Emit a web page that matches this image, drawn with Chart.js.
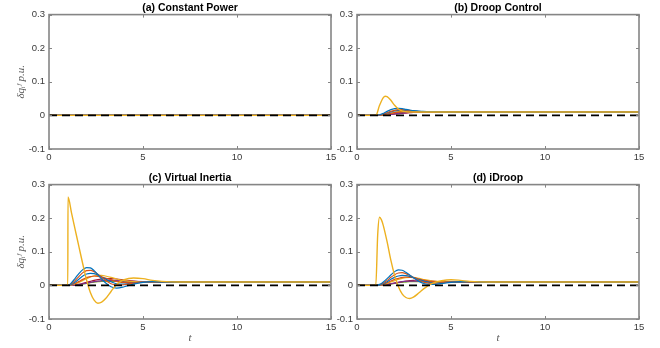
<!DOCTYPE html>
<html>
<head>
<meta charset="utf-8">
<script src="https://cdn.jsdelivr.net/npm/chart.js@4.4.1/dist/chart.umd.min.js"></script>
<style>
  html, body { margin: 0; padding: 0; background: #fff; }
  #wrap { position: relative; width: 660px; height: 348px; overflow: hidden; }
  canvas { position: absolute; }
</style>
</head>
<body>
<div id="wrap">
  <canvas id="pa" width="340" height="170" style="left:0;top:0"></canvas>
  <canvas id="pb" width="330" height="170" style="left:330px;top:0"></canvas>
  <canvas id="pc" width="340" height="178" style="left:0;top:170px"></canvas>
  <canvas id="pd" width="330" height="178" style="left:330px;top:170px"></canvas>
</div>
<script>
// axes
const xTicks = [0, 5, 10, 15];
const yTicks = [-0.1, 0, 0.1, 0.2, 0.3];
const yTickText = ["-0.1", "0", "0.1", "0.2", "0.3"];

const titles = ["(a) Constant Power", "(b) Droop Control", "(c) Virtual Inertia", "(d) iDroop"];

// matlab colours for the small curves, the big one is yellow
const smallColors = ["#0072BD", "#D95319", "#0072BD", "#D95319", "#EDB120", "#7E2F8E", "#A2142F", "#77AC30"];
const bigColor = "#EDB120";

// (a) constant power: everything stays at zero
const tA = [0, 15];
const aBig = [0, 0];
const aSmall = [
  [0, 0], [0, 0], [0, 0], [0, 0], [0, 0], [0, 0], [0, 0], [0, 0]
];

// (b) droop control
const tB = [0, 1.0, 1.2, 1.4, 1.5, 1.6, 1.8, 2.0, 2.2, 2.4, 2.6, 2.8, 3.0, 3.5, 4.0, 5.0, 6.0, 8.0, 10, 15];
const bBig = [0, 0, 0.030, 0.053, 0.057, 0.056, 0.045, 0.030, 0.019, 0.013, 0.011, 0.010, 0.010, 0.010, 0.010, 0.010, 0.010, 0.010, 0.010, 0.010];
const bSmall = [
  [0, 0, 0.002, 0.006, 0.009, 0.012, 0.017, 0.020, 0.021, 0.020, 0.018, 0.016, 0.014, 0.012, 0.011, 0.010, 0.010, 0.010, 0.010, 0.010],
  [0, 0, 0.001, 0.004, 0.006, 0.008, 0.012, 0.015, 0.017, 0.017, 0.016, 0.015, 0.013, 0.011, 0.010, 0.010, 0.010, 0.010, 0.010, 0.010],
  [0, 0, 0.001, 0.003, 0.005, 0.007, 0.010, 0.013, 0.015, 0.015, 0.015, 0.014, 0.013, 0.011, 0.010, 0.010, 0.010, 0.010, 0.010, 0.010],
  [0, 0, 0, 0.002, 0.003, 0.004, 0.006, 0.008, 0.010, 0.011, 0.012, 0.012, 0.011, 0.011, 0.010, 0.010, 0.010, 0.010, 0.010, 0.010],
  [0, 0, 0, 0.001, 0.002, 0.003, 0.006, 0.009, 0.011, 0.012, 0.013, 0.013, 0.012, 0.011, 0.010, 0.010, 0.010, 0.010, 0.010, 0.010],
  [0, 0, 0, 0.001, 0.001, 0.002, 0.003, 0.005, 0.006, 0.007, 0.008, 0.009, 0.009, 0.010, 0.010, 0.010, 0.010, 0.010, 0.010, 0.010],
  [0, 0, 0, 0.001, 0.001, 0.002, 0.003, 0.004, 0.005, 0.006, 0.007, 0.008, 0.009, 0.010, 0.010, 0.010, 0.010, 0.010, 0.010, 0.010],
  [0, 0, 0, 0.001, 0.002, 0.003, 0.005, 0.007, 0.008, 0.009, 0.010, 0.010, 0.010, 0.010, 0.010, 0.010, 0.010, 0.010, 0.010, 0.010]
];

// (c) virtual inertia
const tC = [0, 1.0, 1.01, 1.2, 1.4, 1.6, 1.8, 2.0, 2.2, 2.4, 2.6, 2.8, 3.0, 3.3, 3.6, 4.0, 4.5, 5.0, 5.5, 6.0, 7.0, 8.0, 10, 15];
const cBig = [0, 0, 0.263, 0.215, 0.164, 0.113, 0.063, 0.016, -0.021, -0.044, -0.053, -0.050, -0.040, -0.018, 0.003, 0.017, 0.022, 0.020, 0.015, 0.012, 0.010, 0.010, 0.010, 0.010];
const cSmall = [
  [0, 0, 0, 0.008, 0.022, 0.036, 0.047, 0.053, 0.052, 0.044, 0.032, 0.019, 0.008, -0.004, -0.008, -0.004, 0.004, 0.009, 0.011, 0.011, 0.010, 0.010, 0.010, 0.010],
  [0, 0, 0, 0.005, 0.015, 0.027, 0.038, 0.044, 0.045, 0.041, 0.033, 0.024, 0.015, 0.005, 0.001, 0.002, 0.007, 0.010, 0.011, 0.011, 0.010, 0.010, 0.010, 0.010],
  [0, 0, 0, 0.003, 0.010, 0.019, 0.028, 0.034, 0.036, 0.035, 0.031, 0.025, 0.019, 0.011, 0.005, 0.004, 0.007, 0.010, 0.011, 0.010, 0.010, 0.010, 0.010, 0.010],
  [0, 0, 0, 0.002, 0.006, 0.012, 0.018, 0.023, 0.026, 0.028, 0.027, 0.025, 0.022, 0.017, 0.012, 0.008, 0.008, 0.010, 0.010, 0.010, 0.010, 0.010, 0.010, 0.010],
  [0, 0, 0, 0.001, 0.004, 0.009, 0.015, 0.020, 0.025, 0.028, 0.030, 0.030, 0.028, 0.024, 0.019, 0.014, 0.011, 0.010, 0.010, 0.010, 0.010, 0.010, 0.010, 0.010],
  [0, 0, 0, 0, 0.001, 0.003, 0.005, 0.007, 0.009, 0.011, 0.013, 0.014, 0.015, 0.015, 0.014, 0.013, 0.012, 0.011, 0.010, 0.010, 0.010, 0.010, 0.010, 0.010],
  [0, 0, 0, 0, 0.001, 0.003, 0.006, 0.009, 0.012, 0.015, 0.017, 0.019, 0.020, 0.020, 0.019, 0.016, 0.013, 0.011, 0.010, 0.010, 0.010, 0.010, 0.010, 0.010],
  [0, 0, 0, 0, 0.001, 0.002, 0.004, 0.006, 0.008, 0.010, 0.011, 0.012, 0.012, 0.012, 0.012, 0.011, 0.011, 0.010, 0.010, 0.010, 0.010, 0.010, 0.010, 0.010]
];

// (d) iDroop
const tD = [0, 1.0, 1.1, 1.2, 1.3, 1.4, 1.6, 1.8, 2.0, 2.2, 2.4, 2.6, 2.8, 3.0, 3.3, 3.6, 4.0, 4.5, 5.0, 5.5, 6.0, 7.0, 8.0, 10, 15];
const dBig = [0, 0, 0.150, 0.203, 0.195, 0.178, 0.130, 0.075, 0.030, -0.003, -0.025, -0.036, -0.039, -0.035, -0.022, -0.008, 0.006, 0.014, 0.017, 0.015, 0.012, 0.010, 0.010, 0.010, 0.010];
const dSmall = [
  [0, 0, 0.001, 0.003, 0.006, 0.010, 0.020, 0.031, 0.041, 0.046, 0.045, 0.039, 0.031, 0.023, 0.012, 0.005, 0.003, 0.006, 0.009, 0.011, 0.011, 0.010, 0.010, 0.010, 0.010],
  [0, 0, 0.001, 0.002, 0.004, 0.007, 0.015, 0.024, 0.032, 0.037, 0.038, 0.035, 0.030, 0.024, 0.015, 0.009, 0.006, 0.008, 0.010, 0.011, 0.010, 0.010, 0.010, 0.010, 0.010],
  [0, 0, 0, 0.001, 0.003, 0.005, 0.011, 0.018, 0.024, 0.028, 0.030, 0.029, 0.027, 0.023, 0.017, 0.012, 0.008, 0.008, 0.010, 0.010, 0.010, 0.010, 0.010, 0.010, 0.010],
  [0, 0, 0, 0.001, 0.002, 0.003, 0.008, 0.013, 0.018, 0.021, 0.024, 0.025, 0.024, 0.023, 0.019, 0.015, 0.011, 0.010, 0.010, 0.010, 0.010, 0.010, 0.010, 0.010, 0.010],
  [0, 0, 0, 0, 0.001, 0.002, 0.006, 0.010, 0.014, 0.018, 0.021, 0.023, 0.024, 0.024, 0.021, 0.017, 0.013, 0.011, 0.010, 0.010, 0.010, 0.010, 0.010, 0.010, 0.010],
  [0, 0, 0, 0, 0, 0.001, 0.003, 0.005, 0.007, 0.009, 0.011, 0.012, 0.013, 0.013, 0.013, 0.012, 0.011, 0.011, 0.010, 0.010, 0.010, 0.010, 0.010, 0.010, 0.010],
  [0, 0, 0, 0, 0, 0.001, 0.003, 0.005, 0.007, 0.009, 0.011, 0.013, 0.014, 0.015, 0.016, 0.015, 0.013, 0.011, 0.010, 0.010, 0.010, 0.010, 0.010, 0.010, 0.010],
  [0, 0, 0, 0, 0, 0.001, 0.002, 0.004, 0.006, 0.008, 0.009, 0.010, 0.011, 0.011, 0.011, 0.011, 0.010, 0.010, 0.010, 0.010, 0.010, 0.010, 0.010, 0.010, 0.010]
];

const frameColor = "#858585";
const tickColor = "#3a3a3a";

// box round the plot with inward ticks, matlab style
const boxPlugin = {
  id: "box",
  afterDatasetsDraw(chart) {
    const { ctx, chartArea: a, scales: { x, y } } = chart;
    ctx.save();
    ctx.strokeStyle = frameColor;
    ctx.lineWidth = 1;
    ctx.beginPath();
    x.ticks.forEach(t => {
      const px = Math.round(x.getPixelForValue(t.value)) + 0.5;
      ctx.moveTo(px, a.bottom); ctx.lineTo(px, a.bottom - 3);
      ctx.moveTo(px, a.top); ctx.lineTo(px, a.top + 3);
    });
    y.ticks.forEach(t => {
      const py = Math.round(y.getPixelForValue(t.value)) + 0.5;
      ctx.moveTo(a.left, py); ctx.lineTo(a.left + 3, py);
      ctx.moveTo(a.right, py); ctx.lineTo(a.right - 3, py);
    });
    ctx.stroke();
    ctx.lineWidth = 1.6;
    ctx.strokeRect(a.left, a.top, a.right - a.left, a.bottom - a.top);
    ctx.restore();
  }
};

function makePanel(id, idx, t, big, small, left) {
  const datasets = [];
  datasets.push({
    data: [{ x: 0, y: 0 }, { x: 15, y: 0 }],
    borderColor: "#000",
    borderWidth: 1.6,
    borderDash: [8, 5],
    order: 0
  });
  datasets.push({
    data: t.map((v, i) => ({ x: v, y: big[i] })),
    borderColor: bigColor,
    borderWidth: 1.4,
    order: 1
  });
  small.forEach((s, k) => {
    datasets.push({
      data: t.map((v, i) => ({ x: v, y: s[i] })),
      borderColor: smallColors[k],
      borderWidth: 1.2,
      order: 2
    });
  });
  const bottomRow = idx >= 2;

  new Chart(document.getElementById(id), {
    type: "line",
    data: { datasets },
    options: {
      responsive: false,
      animation: false,
      events: [],
      elements: {
        point: { radius: 0 },
        line: { cubicInterpolationMode: "monotone" }
      },
      layout: { padding: { left: left ? 15 : 0, right: left ? 9 : 21, top: 0, bottom: 0 } },
      plugins: {
        legend: { display: false },
        tooltip: { enabled: false },
        title: {
          display: true,
          text: titles[idx],
          fullSize: false,
          color: "#000",
          font: { family: "Liberation Sans, Arial, sans-serif", size: 10.5, weight: "bold" },
          padding: { top: 2, bottom: 0 }
        }
      },
      scales: {
        x: {
          type: "linear",
          min: 0,
          max: 15,
          afterBuildTicks: s => { s.ticks = xTicks.map(v => ({ value: v })); },
          afterFit: s => { s.height = bottomRow ? 29 : 21; },
          grid: { display: false, drawTicks: false },
          border: { display: false },
          ticks: {
            color: tickColor,
            padding: 3,
            maxRotation: 0,
            font: { family: "Liberation Sans, Arial, sans-serif", size: 9.5 },
            callback: v => String(v)
          },
          title: {
            display: bottomRow,
            text: "t",
            color: "#555",
            font: { family: "Liberation Serif, serif", size: 11, style: "italic" },
            padding: { top: 0, bottom: 3 }
          }
        },
        y: {
          min: -0.1,
          max: 0.3,
          afterBuildTicks: s => { s.ticks = yTicks.map(v => ({ value: v })); },
          afterFit: s => { s.width = left ? 34 : 27; },
          grid: { display: false, drawTicks: false },
          border: { display: false },
          ticks: {
            color: tickColor,
            padding: 4,
            font: { family: "Liberation Sans, Arial, sans-serif", size: 9.5 },
            callback: (v, i) => yTickText[i]
          },
          title: {
            display: left,
            text: "δqᵢᶠ p.u.",
            color: "#555",
            font: { family: "Liberation Serif, serif", size: 11, style: "italic" },
            padding: 0
          }
        }
      }
    },
    plugins: [boxPlugin]
  });
}

makePanel("pa", 0, tA, aBig, aSmall, true);
makePanel("pb", 1, tB, bBig, bSmall, false);
makePanel("pc", 2, tC, cBig, cSmall, true);
makePanel("pd", 3, tD, dBig, dSmall, false);
</script>
</body>
</html>
